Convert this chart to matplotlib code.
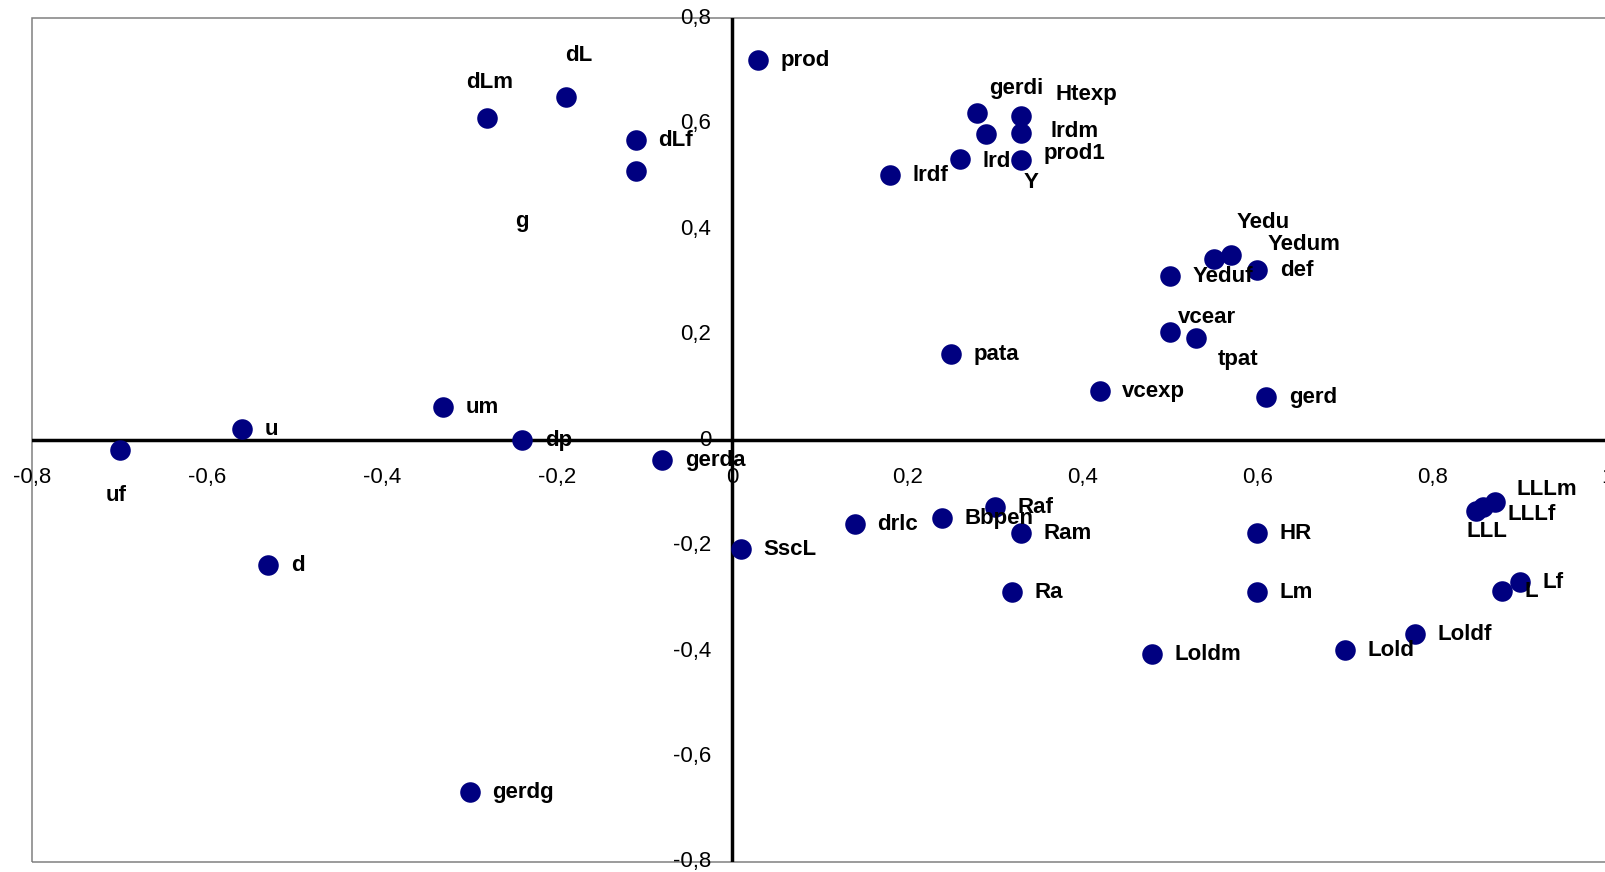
import matplotlib
matplotlib.use("Agg")
import matplotlib.pyplot as plt
from matplotlib.patches import Rectangle

plt.rcParams["font.family"] = ["Liberation Sans", "DejaVu Sans"]

# Variable loadings on the first two factors
names = ["prod", "dL", "dLm", "dLf", "g", "um", "u", "dp", "gerda", "uf",
         "d", "gerdg", "SscL", "gerdi", "Htexp", "lrdm", "prod1", "Y", "lrd",
         "lrdf", "Yedu", "Yedum", "def", "Yeduf", "vcear", "tpat", "pata",
         "vcexp", "gerd", "drlc", "Bbpen", "Raf", "Ram", "HR", "Ra", "Lm",
         "Loldm", "Lold", "Loldf", "L", "Lf", "LLL", "LLLf", "LLLm"]
factor1 = [0.03, -0.19, -0.28, -0.11, -0.11, -0.33, -0.56, -0.24, -0.08, -0.70,
           -0.53, -0.30, 0.01, 0.28, 0.33, 0.33, 0.33, 0.29, 0.26,
           0.18, 0.55, 0.57, 0.60, 0.50, 0.50, 0.53, 0.25,
           0.42, 0.61, 0.14, 0.24, 0.30, 0.33, 0.60, 0.32, 0.60,
           0.48, 0.70, 0.78, 0.88, 0.90, 0.85, 0.858, 0.871]
factor2 = [0.72, 0.65, 0.61, 0.57, 0.51, 0.063, 0.022, 0.00, -0.037, -0.018,
           -0.236, -0.668, -0.207, 0.621, 0.614, 0.582, 0.532, 0.580, 0.534,
           0.503, 0.344, 0.351, 0.322, 0.311, 0.205, 0.193, 0.164,
           0.093, 0.082, -0.159, -0.147, -0.127, -0.177, -0.177, -0.288, -0.288,
           -0.406, -0.399, -0.368, -0.287, -0.269, -0.135, -0.127, -0.117]

x_ticks = [-0.8, -0.6, -0.4, -0.2, 0.0, 0.2, 0.4, 0.6, 0.8, 1.0]
x_tick_labels = ["-0,8", "-0,6", "-0,4", "-0,2", "0", "0,2", "0,4", "0,6", "0,8", "1"]
y_ticks = [-0.8, -0.6, -0.4, -0.2, 0.0, 0.2, 0.4, 0.6, 0.8]
y_tick_labels = ["-0,8", "-0,6", "-0,4", "-0,2", "0", "0,2", "0,4", "0,6", "0,8"]

# Label placement (pixels right / down from the marker, text baseline)
DEFAULT_OFFSET = (22.5, 6.0)
label_offsets = {
    "dL": (-1, -36.7), "dLm": (-21.4, -30), "g": (-120.9, 55.3),
    "uf": (-14.4, 51.7), "gerdi": (12.3, -18.3), "Htexp": (34.3, -16.7),
    "lrdm": (29.3, 3.3), "prod1": (22.6, -0.7), "lrd": (22.7, 8),
    "Y": (38, 53.3), "Yedu": (22.7, -31), "Yedum": (36, -4.6),
    "vcear": (8.3, -9.4), "tpat": (22, 27), "LLLm": (22.4, -6.3),
    "LLLf": (24, 13.4), "LLL": (-10, 25.6),
}

W, H, DPI = 1606, 872, 100
pt = 72.0 / DPI  # points per pixel

fig = plt.figure(figsize=(W / DPI, H / DPI), dpi=DPI)
left_px, right_px, top_px, bottom_px = 32.0, 1607.5, 18.3, 861.9
ax = fig.add_axes([left_px / W, (H - bottom_px) / H,
                   (right_px - left_px) / W, (bottom_px - top_px) / H])
ax.set_xlim(-0.8, 1.0)
ax.set_ylim(-0.8, 0.8)

for s in ax.spines.values():
    s.set_visible(False)
ax.set_xticks([])
ax.set_yticks([])

# plot-area frame
ax.add_patch(Rectangle((0, 0), 1, 1, transform=ax.transAxes, fill=False,
                       edgecolor="#808080", linewidth=1.1, clip_on=False, zorder=1))
# axes through the origin
ax.axhline(0, color="black", linewidth=2.5, zorder=2)
ax.axvline(0, color="black", linewidth=2.5, zorder=2)

# tick labels sit along the zero lines
for v, t in zip(x_ticks, x_tick_labels):
    ax.annotate(t, (v, 0), xytext=(0, -27 * pt), textcoords="offset points",
                ha="center", va="top", fontsize=16, annotation_clip=False, zorder=3)
for v, t in zip(y_ticks, y_tick_labels):
    ax.annotate(t, (0, v), xytext=(-21 * pt, 0), textcoords="offset points",
                ha="right", va="center", fontsize=16, annotation_clip=False, zorder=3)

ax.plot(factor1, factor2, linestyle="none", marker="o", markersize=14.8,
        markerfacecolor="#000080", markeredgewidth=0, zorder=4)

for name, xv, yv in zip(names, factor1, factor2):
    dx, dy = label_offsets.get(name, DEFAULT_OFFSET)
    ax.annotate(name, (xv, yv), xytext=(dx * pt, -dy * pt), textcoords="offset points",
                ha="left", va="baseline", fontsize=16, fontweight="bold",
                annotation_clip=False, zorder=5)

fig.savefig("out.png", dpi=DPI)
